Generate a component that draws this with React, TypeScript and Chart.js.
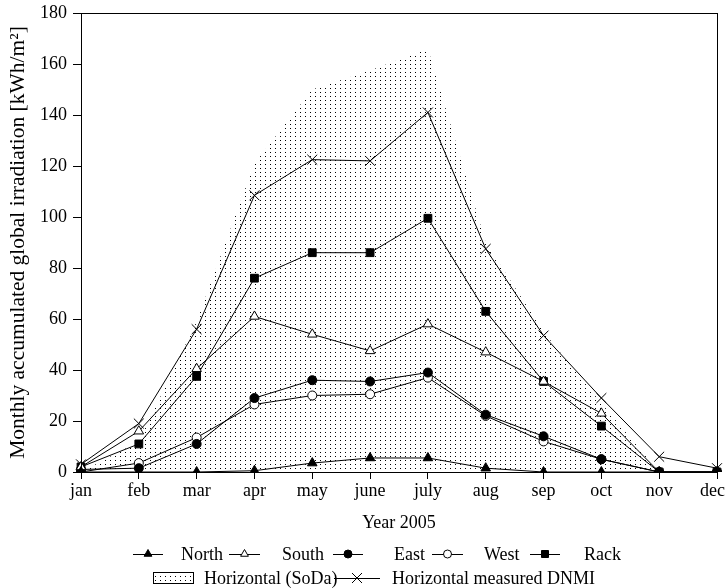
import React, { useEffect, useRef } from "react";
import { Chart, registerables } from "chart.js";
Chart.register(...registerables);

const months = ["jan", "feb", "mar", "apr", "may", "june", "july", "aug", "sep", "oct", "nov", "dec"];
const northValues = [0, 0, 0, 0.5, 3.5, 5.5, 5.5, 1.5, 0, 0, 0, 0];
const southValues = [2, 16, 40.5, 61, 54, 47.5, 58, 47, 35.5, 23, 0, 0];
const eastValues = [1, 1.5, 11, 29, 36, 35.5, 39, 22.5, 14, 5, 0, 0];
const westValues = [0, 3.5, 13.5, 26.5, 30, 30.5, 37, 22, 12, 5, 0, 0];
const rackValues = [2, 11, 37.5, 76, 86, 86, 99.5, 63, 35.5, 18, 0, 0];
const sodaValues = [0, 12, 59, 121, 150, 157.5, 166, 90, 55, 27, 0, 0];
const dnmiValues = [3, 19, 56, 108.5, 122.5, 122, 141, 87.5, 53.5, 29, 6, 1.5];

const yMin = 0;
const yMax = 180;
const yStep = 20;
const xTitle = "Year 2005";
const yTitle = "Monthly accumulated global irradiation [kWh/m\u00B2]";

const FONT = '"Liberation Serif", "Times New Roman", serif';

function makeDotPattern(ctx: CanvasRenderingContext2D): CanvasPattern | string {
  const c = document.createElement("canvas");
  c.width = 5;
  c.height = 4;
  const g = c.getContext("2d");
  if (!g) return "#ccc";
  g.fillStyle = "#000";
  g.fillRect(0, 0, 1, 1);
  return ctx.createPattern(c, "repeat") || "#ccc";
}

function drawMarker(ctx: CanvasRenderingContext2D, kind: string, x: number, y: number, filled: boolean) {
  ctx.save();
  ctx.lineWidth = 1;
  ctx.strokeStyle = "#000";
  ctx.fillStyle = filled ? "#000" : "#fff";
  ctx.beginPath();
  if (kind === "triangle") {
    const r = 4.5;
    ctx.moveTo(x, y - r);
    ctx.lineTo(x + r * 0.866, y + r / 2);
    ctx.lineTo(x - r * 0.866, y + r / 2);
    ctx.closePath();
    ctx.fill();
    ctx.stroke();
  } else if (kind === "circle") {
    ctx.arc(x, y, 4, 0, Math.PI * 2);
    ctx.fill();
    ctx.stroke();
  } else if (kind === "rect") {
    ctx.rect(x - 3.5, y - 3.5, 7, 7);
    ctx.fill();
    ctx.stroke();
  } else if (kind === "cross") {
    const r = 5;
    ctx.moveTo(x - r, y - r);
    ctx.lineTo(x + r, y + r);
    ctx.moveTo(x + r, y - r);
    ctx.lineTo(x - r, y + r);
    ctx.stroke();
  }
  ctx.restore();
}

const legendPlugin = {
  id: "customLegend",
  afterDraw(chart: any) {
    const ctx: CanvasRenderingContext2D = chart.ctx;
    const area = chart.chartArea;
    ctx.save();
    // frame
    ctx.strokeStyle = "#000";
    ctx.lineWidth = 1;
    ctx.strokeRect(Math.round(area.left) + 0.5, Math.round(area.top) + 0.5, Math.round(area.right - area.left), Math.round(area.bottom - area.top));

    ctx.font = `18px ${FONT}`;
    ctx.fillStyle = "#000";

    // last month label, kept inside the canvas
    const xScale = chart.scales.x;
    const lastX = xScale.getPixelForValue(months.length - 1);
    ctx.textAlign = "right";
    ctx.textBaseline = "middle";
    ctx.fillText(months[months.length - 1], Math.min(lastX + 12, chart.width - 2), area.bottom + 19);
    ctx.textAlign = "left";

    const row1 = 554;
    const items1 = [
      { l: 133, r: 163, kind: "triangle", filled: true, tx: 181, text: "North" },
      { l: 229, r: 260, kind: "triangle", filled: false, tx: 282, text: "South" },
      { l: 333, r: 363, kind: "circle", filled: true, tx: 394, text: "East" },
      { l: 432, r: 463, kind: "circle", filled: false, tx: 484, text: "West" },
      { l: 530, r: 560, kind: "rect", filled: true, tx: 584, text: "Rack" },
    ];
    for (const it of items1) {
      ctx.beginPath();
      ctx.strokeStyle = "#000";
      ctx.lineWidth = 1;
      ctx.moveTo(it.l, row1 + 0.5);
      ctx.lineTo(it.r, row1 + 0.5);
      ctx.stroke();
      drawMarker(ctx, it.kind, (it.l + it.r) / 2, row1, it.filled);
      ctx.fillStyle = "#000";
      ctx.fillText(it.text, it.tx, row1 + 1);
    }

    const row2 = 578;
    ctx.fillStyle = makeDotPattern(ctx) as any;
    ctx.fillRect(153, 572, 40, 11);
    ctx.strokeStyle = "#000";
    ctx.strokeRect(153.5, 572.5, 40, 11);
    ctx.fillStyle = "#000";
    ctx.fillText("Horizontal (SoDa)", 204, row2 + 1);
    ctx.beginPath();
    ctx.moveTo(334, row2 + 0.5);
    ctx.lineTo(380, row2 + 0.5);
    ctx.stroke();
    drawMarker(ctx, "cross", 357, row2, false);
    ctx.fillStyle = "#000";
    ctx.fillText("Horizontal measured DNMI", 392, row2 + 1);
    ctx.restore();
  },
};

export default function App() {
  const canvasRef = useRef<HTMLCanvasElement | null>(null);

  useEffect(() => {
    document.body.style.margin = "0";
    const canvas = canvasRef.current;
    if (!canvas) return;
    const ctx = canvas.getContext("2d");
    if (!ctx) return;
    const pattern = makeDotPattern(ctx);

    const lineBase = {
      borderColor: "#000",
      borderWidth: 1,
      pointBorderColor: "#000",
      pointBorderWidth: 1,
      fill: false,
      tension: 0,
      order: 0,
    };

    const chart = new Chart(ctx, {
      type: "line",
      data: {
        labels: months,
        datasets: [
          { ...lineBase, label: "North", data: northValues, pointStyle: "triangle", pointRadius: 5.5, pointBackgroundColor: "#000", backgroundColor: "#000" },
          { ...lineBase, label: "South", data: southValues, pointStyle: "triangle", pointRadius: 5.5, pointBackgroundColor: "#fff", backgroundColor: "#fff" },
          { ...lineBase, label: "East", data: eastValues, pointStyle: "circle", pointRadius: 4.5, pointBackgroundColor: "#000", backgroundColor: "#000" },
          { ...lineBase, label: "West", data: westValues, pointStyle: "circle", pointRadius: 4.5, pointBackgroundColor: "#fff", backgroundColor: "#fff" },
          { ...lineBase, label: "Rack", data: rackValues, pointStyle: "rect", pointRadius: 5.5, pointBackgroundColor: "#000", backgroundColor: "#000" },
          { ...lineBase, label: "Horizontal measured DNMI", data: dnmiValues, pointStyle: "crossRot", pointRadius: 7, pointBackgroundColor: "#000", backgroundColor: "#000" },
          {
            label: "Horizontal (SoDa)",
            data: sodaValues,
            borderColor: "rgba(0,0,0,0)",
            borderWidth: 0,
            pointRadius: 0,
            fill: "origin",
            backgroundColor: pattern as any,
            tension: 0,
            order: 10,
          },
        ],
      },
      options: {
        animation: false,
        responsive: false,
        devicePixelRatio: 1,
        layout: { padding: { left: 0, right: 10, top: 13, bottom: 0 } },
        plugins: {
          legend: { display: false },
          tooltip: { enabled: false },
        },
        scales: {
          x: {
            type: "category",
            offset: false,
            grid: { display: true, drawOnChartArea: false, drawTicks: true, tickLength: 7, color: "#000" },
            border: { display: true, color: "#000", width: 1 },
            ticks: {
              color: "#000",
              font: { family: FONT, size: 18 },
              padding: 1,
              maxRotation: 0,
              autoSkip: false,
              callback: (_v: any, i: number) => (i === months.length - 1 ? "" : months[i]),
            },
            title: { display: true, text: xTitle, color: "#000", font: { family: FONT, size: 18 }, padding: { top: 0, bottom: 54 } },
            afterFit(scale: any) {
              scale.height = 116;
              scale.paddingLeft = 0;
              scale.paddingRight = 0;
            },
          },
          y: {
            min: yMin,
            max: yMax,
            grid: { display: true, drawOnChartArea: false, drawTicks: true, tickLength: 8, color: "#000" },
            border: { display: true, color: "#000", width: 1 },
            ticks: { stepSize: yStep, color: "#000", font: { family: FONT, size: 18 }, padding: 6 },
            title: { display: true, text: yTitle, color: "#000", font: { family: FONT, size: 21.5 }, padding: { top: 5, bottom: 0 } },
            afterFit(scale: any) {
              scale.width = 81;
              scale.paddingTop = 0;
              scale.paddingBottom = 0;
            },
          },
        },
      } as any,
      plugins: [legendPlugin],
    });

    return () => {
      chart.destroy();
    };
  }, []);

  return (
    <div style={{ width: 727, height: 588, position: "relative" }}>
      <canvas ref={canvasRef} width={727} height={588} style={{ display: "block" }} />
    </div>
  );
}
